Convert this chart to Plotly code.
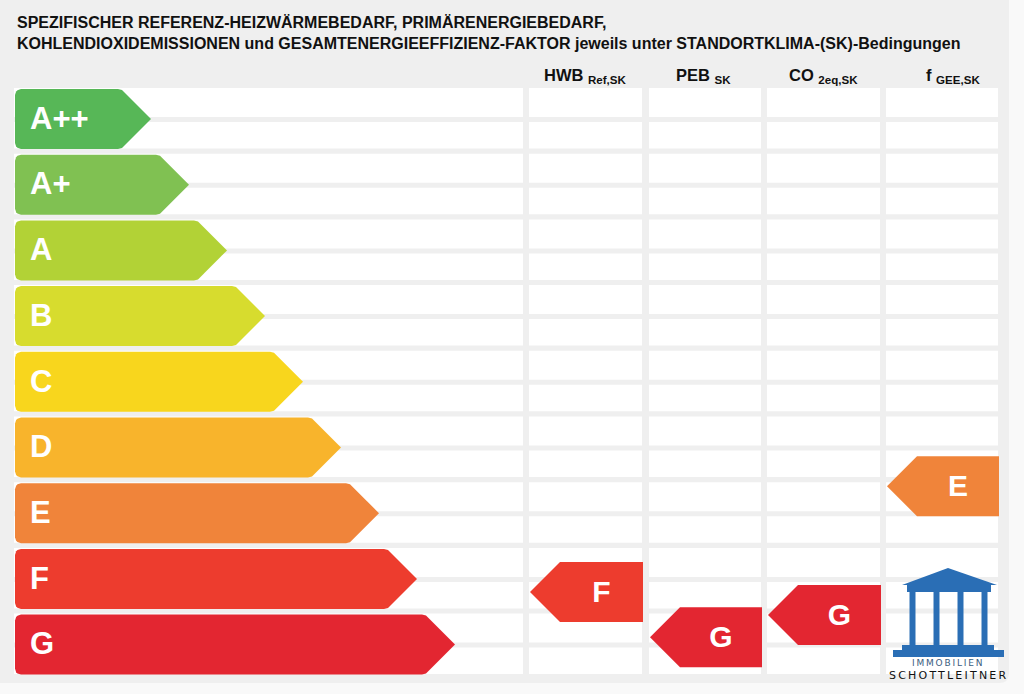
import numpy as np
import plotly.graph_objects as go

# ---------------- data ----------------
classes = ["A++", "A+", "A", "B", "C", "D", "E", "F", "G"]
class_colors = ["#57b757", "#80c152", "#b2d236", "#d7dc2e", "#f8d61d",
                "#f8b42c", "#f0843a", "#ed3c2e", "#e32631"]

indicator_names = ["HWB", "PEB", "CO", "f"]
indicator_subs = ["Ref,SK", "SK", "2eq,SK", "GEE,SK"]
indicator_class = ["F", "G", "G", "E"]
# vertical position of each indicator arrow, in class-row units (A++ = 0 ... G = 8)
indicator_pos = [7.20, 7.89, 7.55, 5.59]

title_lines = [
    "SPEZIFISCHER REFERENZ-HEIZWÄRMEBEDARF, PRIMÄRENERGIEBEDARF,",
    "KOHLENDIOXIDEMISSIONEN und GESAMTENERGIEEFFIZIENZ-FAKTOR jeweils unter STANDORTKLIMA-(SK)-Bedingungen",
]
logo_lines = ["IMMOBILIEN", "SCHOTTLEITNER"]

# ---------------- layout geometry (pixels of the page) ----------------
W, H = 1024, 694
ROW_PX = 65.7          # pixel height of one class row
ROW0_PX = 119.0        # pixel centre of the first row
BAR_H = 60.0
BAR_LEFT = 15.0
BAR_TIP0 = 151.0
BAR_STEP = 38.0
POINT = 30.0
RAD = 6.0
STRIPE_X = (14, 523)
COLS = [(529, 642), (649, 761), (767, 880), (886, 998)]
HEADER_DX = [0, -2, 0, 11]
FONT = "Liberation Sans, Arial, sans-serif"
TXT_DY = 2.0 / ROW_PX


def row_of(px):
    return (px - ROW0_PX) / ROW_PX


def right_arrow(x0, x1, yc):
    h2 = BAR_H / 2
    xs, dys = [], []
    for a in np.linspace(np.pi / 2, np.pi, 6):
        xs.append(x0 + RAD + RAD * np.cos(a)); dys.append(h2 - RAD + RAD * np.sin(a))
    for a in np.linspace(np.pi, 1.5 * np.pi, 6):
        xs.append(x0 + RAD + RAD * np.cos(a)); dys.append(-h2 + RAD + RAD * np.sin(a))
    xs += [x1 - POINT - 3, x1 - POINT + 1, x1 - 1, x1, x1 - 1, x1 - POINT + 1, x1 - POINT - 3]
    dys += [-h2, -h2 + 1, -1, 0, 1, h2 - 1, h2]
    xs.append(xs[0]); dys.append(dys[0])
    return xs, [yc + d / ROW_PX for d in dys]


def left_arrow(x0, x1, yc):
    h2 = BAR_H / 2
    xs = [x0, x0 + POINT, x1, x1, x0 + POINT, x0]
    dys = [0, -h2, -h2, h2, h2, 0]
    return xs, [yc + d / ROW_PX for d in dys]


fig = go.Figure()

# class bars
for i, (c, col) in enumerate(zip(classes, class_colors)):
    tip = BAR_TIP0 + BAR_STEP * i
    xs, ys = right_arrow(BAR_LEFT, tip, i)
    fig.add_trace(go.Scatter(x=xs, y=ys, mode="lines", fill="toself", fillcolor=col,
                             line=dict(width=0, color=col), hoverinfo="skip", showlegend=False))

fig.add_trace(go.Scatter(x=[30] * len(classes), y=[i + TXT_DY for i in range(len(classes))],
                         mode="text", text=classes, textposition="middle right",
                         textfont=dict(family=FONT, size=31, color="white", weight="bold"),
                         hoverinfo="skip", showlegend=False))

# indicator arrows
for k, (cls, pos) in enumerate(zip(indicator_class, indicator_pos)):
    x0, x1 = COLS[k]
    col = class_colors[classes.index(cls)]
    xs, ys = left_arrow(x0 + 1, x1 + 1, pos)
    fig.add_trace(go.Scatter(x=xs, y=ys, mode="lines", fill="toself", fillcolor=col,
                             line=dict(width=0, color=col), hoverinfo="skip", showlegend=False))
    fig.add_trace(go.Scatter(x=[(x0 + 1 + POINT + x1 + 1) / 2], y=[pos + TXT_DY], mode="text",
                             text=[cls], textposition="middle center",
                             textfont=dict(family=FONT, size=30, color="white", weight="bold"),
                             hoverinfo="skip", showlegend=False))

shapes = []
# card background
cx0, cy0, cx1, cy1, r = -10, -10, 1009, 683, 10
card = (f"M {cx0+r},{cy0} L {cx1-r},{cy0} Q {cx1},{cy0} {cx1},{cy0+r} "
        f"L {cx1},{cy1-r} Q {cx1},{cy1} {cx1-r},{cy1} L {cx0+r},{cy1} "
        f"Q {cx0},{cy1} {cx0},{cy1-r} L {cx0},{cy0+r} Q {cx0},{cy0} {cx0+r},{cy0} Z")
shapes.append(dict(type="path", path=card, xref="x", yref="y2", fillcolor="#efefef",
                   line=dict(width=0), layer="below"))

# white stripes (two per class row)
stripe_rows = []
for i in range(len(classes)):
    stripe_rows.append((i + row_of(88), i + row_of(117)))
    stripe_rows.append((i + row_of(122), i + row_of(148.5)))
for (ya, yb) in stripe_rows:
    for (xa, xb) in [STRIPE_X] + COLS:
        shapes.append(dict(type="rect", xref="x", yref="y", x0=xa, x1=xb, y0=ya, y1=yb,
                           fillcolor="white", line=dict(width=0), layer="below"))

# logo (temple)
BLUE = "#2a6eb5"
shapes.append(dict(type="path", path="M 902,585 L 948,568 L 997,585 Z", xref="x", yref="y2",
                   fillcolor=BLUE, line=dict(width=0)))
shapes.append(dict(type="rect", xref="x", yref="y2", x0=907, x1=991, y0=585, y1=592,
                   fillcolor=BLUE, line=dict(width=0)))
for cxp in [912.5, 936.5, 960.5, 984.5]:
    shapes.append(dict(type="rect", xref="x", yref="y2", x0=cxp - 3, x1=cxp + 3, y0=592, y1=645,
                       fillcolor=BLUE, line=dict(width=0)))
shapes.append(dict(type="rect", xref="x", yref="y2", x0=902, x1=994, y0=645, y1=650,
                   fillcolor=BLUE, line=dict(width=0)))
shapes.append(dict(type="rect", xref="x", yref="y2", x0=893, x1=1004, y0=650, y1=657,
                   fillcolor=BLUE, line=dict(width=0)))

annotations = []
for j, line in enumerate(title_lines):
    annotations.append(dict(x=15, y=22 + 21 * j, xref="x", yref="y2", text=f"<b>{line}</b>",
                            showarrow=False, xanchor="left", yanchor="middle",
                            font=dict(family=FONT, size=16, color="#111111")))
for k, (nm, sb) in enumerate(zip(indicator_names, indicator_subs)):
    xc = (COLS[k][0] + COLS[k][1]) / 2 + HEADER_DX[k]
    annotations.append(dict(x=xc, y=76, xref="x", yref="y2",
                            text=f"<b>{nm} <sub>{sb}</sub></b>",
                            showarrow=False, xanchor="center", yanchor="middle",
                            font=dict(family=FONT, size=16.5, color="#111111")))
annotations.append(dict(x=948, y=663, xref="x", yref="y2",
                        text=f'<span style="letter-spacing:1.8px">{logo_lines[0]}</span>',
                        showarrow=False, xanchor="center", yanchor="middle",
                        font=dict(family="DejaVu Sans, sans-serif", size=9, color="#3b5d80")))
annotations.append(dict(x=948, y=675, xref="x", yref="y2",
                        text=f'<span style="letter-spacing:2.2px">{logo_lines[1]}</span>',
                        showarrow=False, xanchor="center", yanchor="middle",
                        font=dict(family="DejaVu Sans, sans-serif", size=11, color="#111111")))

fig.update_layout(
    width=W, height=H, margin=dict(l=0, r=0, t=0, b=0),
    paper_bgcolor="#f9f9f9", plot_bgcolor="rgba(0,0,0,0)",
    xaxis=dict(range=[0, W], visible=False, fixedrange=True),
    yaxis=dict(range=[row_of(H), row_of(0)], visible=False, fixedrange=True),
    yaxis2=dict(range=[H, 0], visible=False, overlaying="y", fixedrange=True),
    shapes=shapes, annotations=annotations, showlegend=False,
)

fig.write_html("out.html", config={"displayModeBar": False, "staticPlot": True},
               post_script="document.body.style.margin='0';document.body.style.background='#f9f9f9';")
